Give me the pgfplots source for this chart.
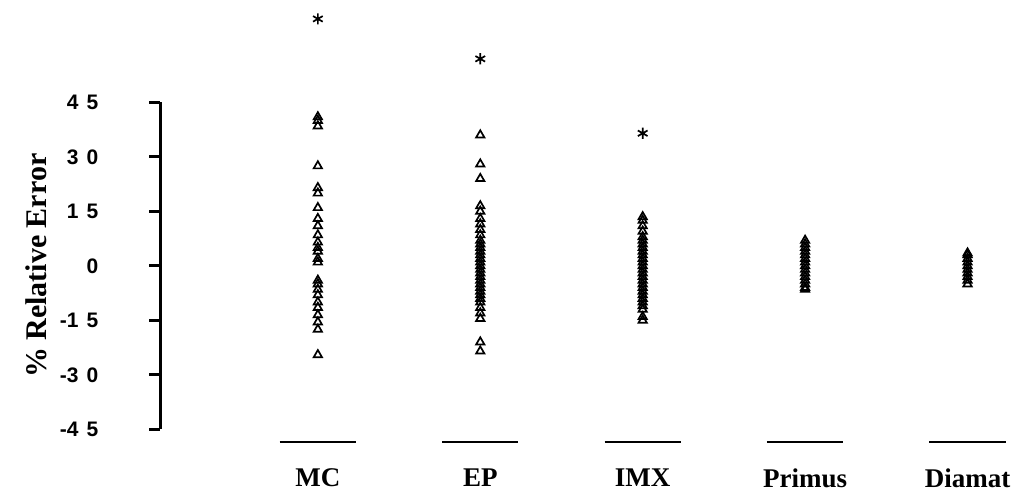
\documentclass[border=0pt]{standalone}
\usepackage{fontspec}
\setmainfont{Liberation Serif}
\newfontfamily\tickfont{Liberation Sans}
\usepackage{pgfplots}
\pgfplotsset{compat=1.18}
\newcommand{\tg}{\hspace{4pt}}
\begin{document}
\begin{tikzpicture}
\begin{axis}[
  scale only axis, width=433pt, height=163.5pt,
  xmin=-0.97, xmax=4.36, ymin=-45, ymax=45,
  clip=false,
  axis y line*=left, axis x line*=bottom,
  x axis line style={draw=none},
  y axis line style={line width=1.5pt},
  ytick={-45,-30,-15,0,15,30,45},
  yticklabels={-4\tg5,-3\tg0,-1\tg5,0,1\tg5,3\tg0,4\tg5},
  yticklabel style={font=\tickfont\bfseries\fontsize{10.5}{12}\selectfont, xshift=-22pt},
  ytick style={line width=1.5pt, black},
  tick align=outside, major tick length=5.5pt,
  xtick={0,1,2,3,4}, xticklabels={MC,EP,IMX,Primus,Diamat},
  xtick style={draw=none},
  xticklabel style={font=\bfseries\fontsize{13.5}{15}\selectfont, yshift=-10.5pt},
]
\path (axis cs:-1.957,-62.5) rectangle (axis cs:4.357,73.2);
% triangles
\addplot[only marks, mark=triangle, mark size=2.4pt, mark options={line width=0.85pt, black}] coordinates {
(0,41) (0,40) (0,38.5) (0,27.5) (0,21.5) (0,20) (0,16) (0,13) (0,11) (0,8.5) (0,6.5) (0,5) (0,4) (0,2) (0,1)
(0,-4) (0,-5) (0,-6.5) (0,-8) (0,-10) (0,-11.5) (0,-13.5) (0,-15.5) (0,-17.5) (0,-24.5)
(1,36) (1,28) (1,24) (1,16.5) (1,15) (1,13) (1,11.5) (1,10) (1,8.5) (1,7) (1,6) (1,5) (1,4) (1,3) (1,2) (1,1) (1,0)
(1,-1) (1,-2) (1,-3) (1,-4) (1,-5) (1,-6) (1,-7) (1,-8) (1,-9) (1,-10) (1,-11.5) (1,-13) (1,-14.5) (1,-21) (1,-23.5)
(2,13.5) (2,12.5) (2,11) (2,9.5) (2,8) (2,7) (2,6) (2,5) (2,4) (2,3) (2,2) (2,1) (2,0)
(2,-1) (2,-2) (2,-3) (2,-4) (2,-5) (2,-6) (2,-7) (2,-8) (2,-9) (2,-10) (2,-11) (2,-12) (2,-14) (2,-15)
(3,7) (3,6) (3,5) (3,4) (3,3) (3,2) (3,1) (3,0) (3,-1) (3,-2) (3,-3) (3,-4) (3,-5) (3,-6) (3,-6.5)
(4,3.5) (4,3) (4,2) (4,1) (4,0) (4,-1) (4,-2) (4,-3) (4,-4) (4,-5)
};
% outliers
\addplot[only marks, mark=asterisk, mark size=2.8pt, mark options={line width=0.85pt, black}] coordinates {
(0,68) (1,57) (2,36.5)
};
% baseline segments
\addplot[black, line width=1pt] coordinates {(-0.235,-48.4) (0.235,-48.4)};
\addplot[black, line width=1pt] coordinates {(0.765,-48.4) (1.235,-48.4)};
\addplot[black, line width=1pt] coordinates {(1.765,-48.4) (2.235,-48.4)};
\addplot[black, line width=1pt] coordinates {(2.765,-48.4) (3.235,-48.4)};
\addplot[black, line width=1pt] coordinates {(3.765,-48.4) (4.235,-48.4)};
\node[rotate=90, font=\bfseries\fontsize{15}{17}\selectfont] at (axis cs:-1.735,0) {\% Relative Error};
\end{axis}
\end{tikzpicture}
\end{document}
